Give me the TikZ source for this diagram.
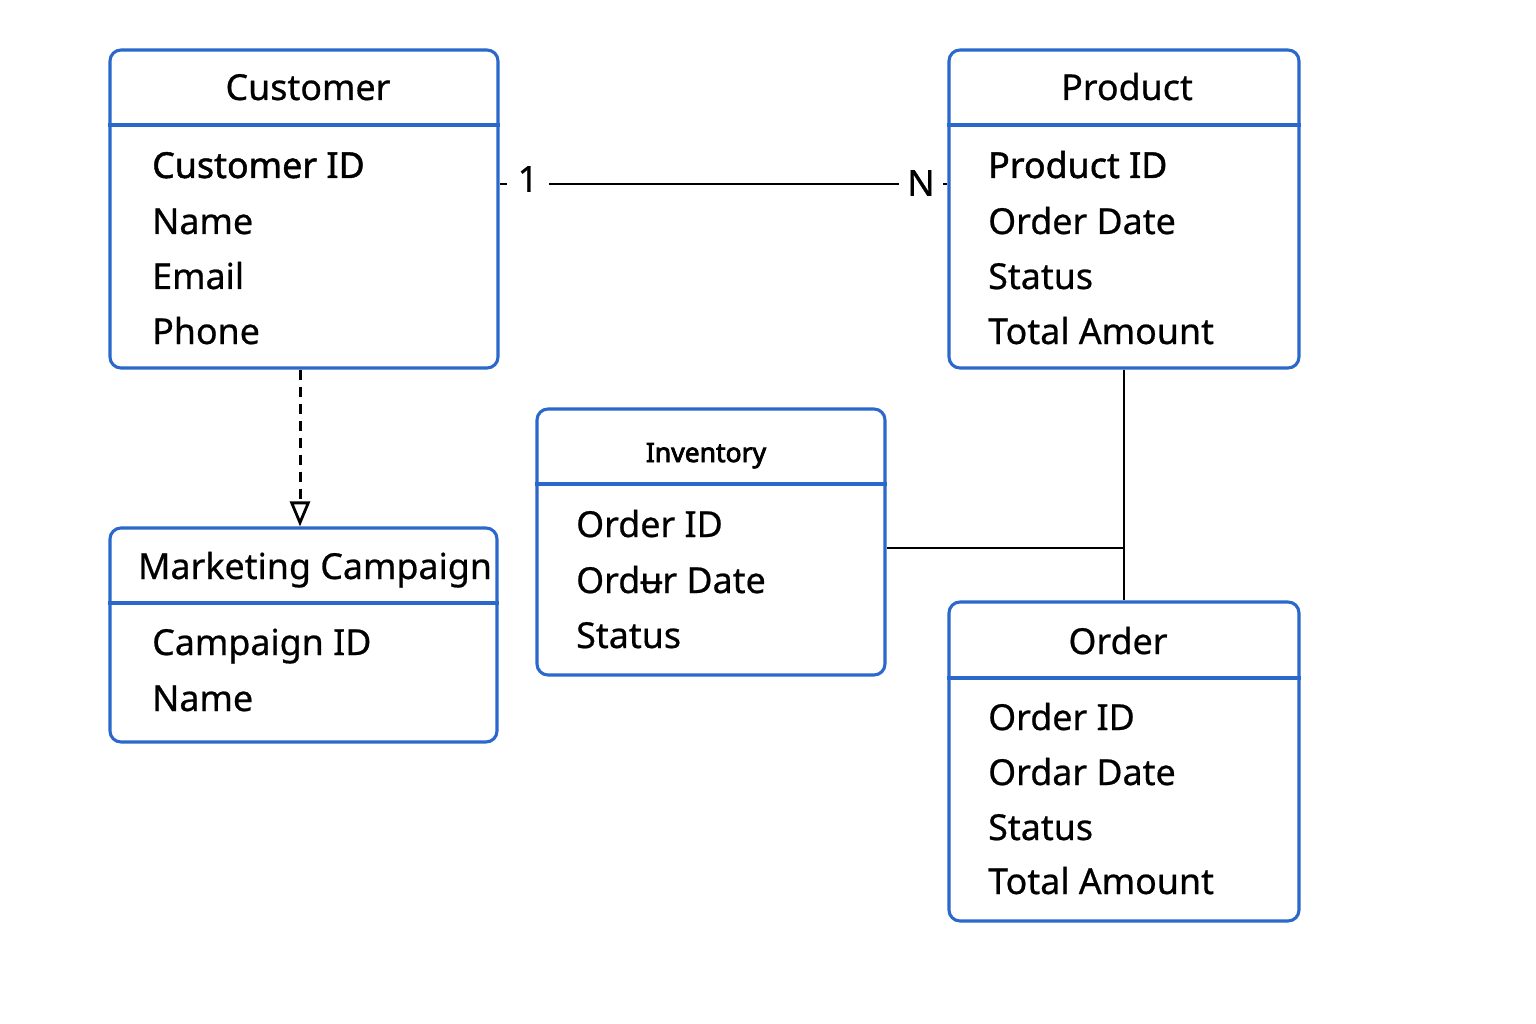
\documentclass[tikz,border=0pt]{standalone}
\usepackage{fontspec}
\setmainfont{Noto Sans}[FakeBold=0.6,AutoFakeBold=0.6]
\newfontfamily\invfont{Noto Sans}[FakeBold=3]
\newfontfamily\keyfont{Noto Sans}[FakeBold=1.3]
\usetikzlibrary{arrows.meta}
\definecolor{eblue}{HTML}{2A68CC}
\tikzset{
  entity/.style={draw=eblue, line width=3.1pt, rounded corners=11pt, fill=white, inner sep=0pt},
  hline/.style={draw=eblue, line width=3.1pt},
  ttl/.style={anchor=base, inner sep=0pt, font=\fontsize{35.8}{44}\selectfont\bfseries},
  item/.style={anchor=base west, inner sep=0pt, font=\fontsize{35.8}{44}\selectfont\bfseries},
  keyitem/.style={item, font=\keyfont\fontsize{35.8}{44}\selectfont},
  conn/.style={draw=black, line width=2.8pt},
  card/.style={fill=white, inner ysep=2pt, font=\fontsize{36}{44}\selectfont\bfseries}
}
\begin{document}
\begin{tikzpicture}[x=1pt,y=-1pt]
\useasboundingbox (0,0) rectangle (1536,1024);

% Customer
\node[entity, minimum width=388, minimum height=318] (cust) at (304,209) {};
\draw[hline] (cust.west |- 0,125) -- (cust.east |- 0,125);
\node[ttl] (custT) at (308,100) {Customer};
\node[keyitem] (c1) at (152,178) {Customer ID};
\node[item] (c2) at (152,234) {Name};
\node[item] (c3) at (152,289) {Email};
\node[item] (c4) at (152,344) {Phone};

% Product
\node[entity, minimum width=350, minimum height=318] (prod) at (1124,209) {};
\draw[hline] (prod.west |- 0,125) -- (prod.east |- 0,125);
\node[ttl] (prodT) at (1127,100) {Product};
\node[keyitem] (p1) at (988,178) {Product ID};
\node[item] (p2) at (988,234) {Order Date};
\node[item] (p3) at (988,289) {Status};
\node[item] (p4) at (988,344) {Total Amount};

% Inventory
\node[entity, minimum width=348, minimum height=266] (inv) at (711,542) {};
\draw[hline] (inv.west |- 0,484) -- (inv.east |- 0,484);
\node[ttl, font=\invfont\fontsize{26.5}{32}\selectfont] (invT) at (706,462) {Inventory};
\node[item] (i1) at (576,537) {Order ID};
\node[item] (i2) at (576,593) {Ordʉr Date};
\node[item] (i3) at (576,648) {Status};

% Marketing Campaign
\node[entity, minimum width=387, minimum height=214] (mkt) at (303.5,635) {};
\draw[hline] (mkt.west |- 0,603) -- (mkt.east |- 0,603);
\node[ttl] (mktT) at (315,579) {Marketing Campaign};
\node[item] (m1) at (152,655) {Campaign ID};
\node[item] (m2) at (152,711) {Name};

% Order
\node[entity, minimum width=350, minimum height=319] (ord) at (1124,761.5) {};
\draw[hline] (ord.west |- 0,678) -- (ord.east |- 0,678);
\node[ttl] (ordT) at (1118,654) {Order};
\node[item] (o1) at (988,730) {Order ID};
\node[item] (o2) at (988,785) {Ordar Date};
\node[item] (o3) at (988,840) {Status};
\node[item] (o4) at (988,894) {Total Amount};

% Customer 1 -- N Product
\coordinate (cpA) at (cust.east |- 0,184);
\coordinate (cpB) at (prod.west |- 0,184);
\draw[conn] (cpA) -- (cpB);
\node[card, inner xsep=11pt] (one) at (528,179) {1};
\node[card, inner xsep=8pt] (many) at (921,183) {N};

% Customer -> Marketing Campaign (dashed, open triangle)
\coordinate (cmA) at (cust.south -| 300,0);
\coordinate (cmB) at (mkt.north -| 300,0);
\draw[conn, line width=3pt, dash pattern=on 10pt off 7pt, -{Triangle[open, length=25pt, width=20pt, line width=2.8pt]}] (cmA) -- (cmB);

% Product -- Order, Inventory -- junction
\draw[conn] (prod.south) -- (ord.north);
\coordinate (invA) at (inv.east |- 0,548);
\coordinate (junc) at (prod.south |- 0,548);
\draw[conn] (invA) -- (junc);
\end{tikzpicture}
\end{document}
